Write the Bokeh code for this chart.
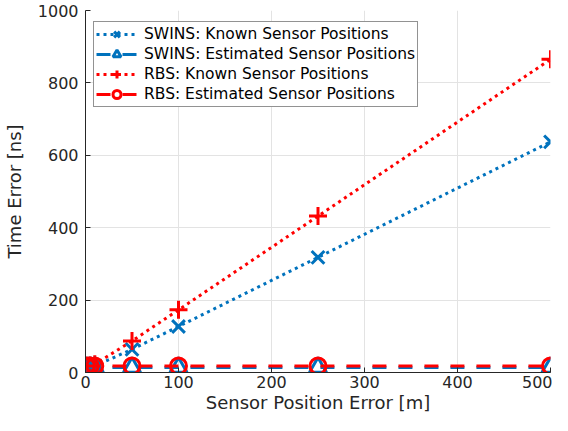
from bokeh.plotting import figure
from bokeh.models import Range1d, FixedTicker, Legend, LegendItem
from bokeh.embed import file_html
from bokeh.resources import INLINE

# data
pos_err = [1, 5, 10, 50, 100, 250, 500]
swins_known = [14, 15, 18, 64, 127, 318, 637]
swins_est = [14, 14, 14, 14, 14, 14, 14]
rbs_known = [17, 19, 23, 87, 173, 432, 865]
rbs_est = [18, 18, 18, 18, 18, 18, 18]

x_ticks = [0, 100, 200, 300, 400, 500]
y_ticks = [0, 200, 400, 600, 800, 1000]

BLUE = "#0072BD"
RED = "#FF0000"
FONT = "DejaVu Sans"

p = figure(width=552, height=415, output_backend="svg", toolbar_location=None,
           x_range=Range1d(0, 500), y_range=Range1d(0, 1000),
           min_border_left=85, min_border_right=2, min_border_top=10, min_border_bottom=42)
p.outline_line_color = None
p.background_fill_color = "white"

for ax in (p.xaxis[0], p.yaxis[0]):
    ax.axis_line_color = "#262626"
    ax.axis_line_width = 1
    ax.major_tick_in = 5
    ax.major_tick_out = 0
    ax.major_tick_line_color = "#262626"
    ax.minor_tick_line_color = None
    ax.major_label_text_font = FONT
    ax.major_label_text_font_size = "16px"
    ax.major_label_text_color = "#262626"
    ax.axis_label_text_font = FONT
    ax.axis_label_text_font_size = "18px"
    ax.axis_label_text_font_style = "normal"
    ax.axis_label_text_color = "#262626"

p.xaxis.ticker = FixedTicker(ticks=x_ticks)
p.yaxis.ticker = FixedTicker(ticks=y_ticks)
p.xaxis.axis_label = "Sensor Position Error [m]"
p.yaxis.axis_label = "Time Error [ns]"
p.xaxis.major_label_standoff = 3
p.xaxis.axis_label_standoff = 1
p.yaxis.major_label_standoff = 7
p.yaxis.axis_label_standoff = 10

p.grid.grid_line_color = "#e3e3e3"
p.grid.grid_line_width = 1

# SWINS known
l1 = p.line(pos_err, swins_known, line_color=BLUE, line_width=3, line_dash="3 4")
m1 = p.scatter(pos_err, swins_known, marker="x", size=18, line_color=BLUE, line_width=3)
# RBS known
l3 = p.line(pos_err, rbs_known, line_color=RED, line_width=3, line_dash="3 4")
m3 = p.scatter(pos_err, rbs_known, marker="cross", size=18, line_color=RED, line_width=3)
# SWINS estimated
l2 = p.line(pos_err, swins_est, line_color=BLUE, line_width=3, line_dash="14 12")
m2 = p.scatter(pos_err, swins_est, marker="triangle", size=17, line_color=BLUE,
               fill_color=None, line_width=3)
# RBS estimated
l4 = p.line(pos_err, rbs_est, line_color=RED, line_width=3, line_dash="14 12")
m4 = p.scatter(pos_err, rbs_est, marker="circle", size=16, line_color=RED,
               fill_color=None, line_width=3)

legend = Legend(items=[
    LegendItem(label="SWINS: Known Sensor Positions", renderers=[l1, m1]),
    LegendItem(label="SWINS: Estimated Sensor Positions", renderers=[l2, m2]),
    LegendItem(label="RBS: Known Sensor Positions", renderers=[l3, m3]),
    LegendItem(label="RBS: Estimated Sensor Positions", renderers=[l4, m4]),
], location=(8, 265))
legend.margin = 0
legend.padding = 2
legend.spacing = 0
legend.label_height = 20
legend.glyph_height = 20
legend.glyph_width = 41
legend.label_standoff = 7
legend.label_text_font = FONT
legend.label_text_font_size = "15.5px"
legend.label_text_color = "#000000"
legend.border_line_color = "#262626"
legend.border_line_width = 1
legend.background_fill_color = "white"
legend.background_fill_alpha = 1
p.add_layout(legend)

open("out.html", "w").write(file_html(p, INLINE))
